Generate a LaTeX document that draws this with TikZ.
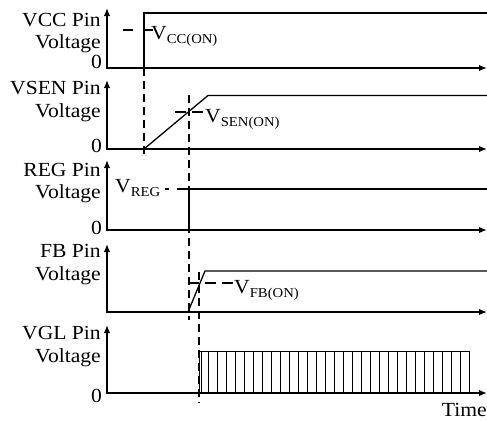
\documentclass[tikz,border=0pt]{standalone}
\usepackage{fontspec}
\setmainfont{Liberation Serif}[FakeStretch=1.08]
\usetikzlibrary{arrows.meta}
\newcommand{\sbs}[1]{\raisebox{-4pt}{\fontsize{13.6}{14}\selectfont #1}}
\begin{document}
\begin{tikzpicture}[x=1pt,y=-1pt,
  axis/.style={line width=1.5pt,{Latex[length=8pt,width=6.5pt]}-{Latex[length=8pt,width=6.5pt]}},
  wave/.style={line width=1.3pt},
  pulse/.style={line width=0.9pt},
  dsh/.style={line width=1.2pt,dash pattern=on 8pt off 5pt},
  lbl/.style={inner sep=0pt,anchor=base east,font=\fontsize{20}{24}\selectfont},
  vlbl/.style={inner sep=0pt,anchor=base west,font=\fontsize{20}{24}\selectfont}]
\useasboundingbox (0,0) rectangle (487,421);
% panel 1 VCC
\node[lbl] (l1a) at (101,26) {VCC Pin};
\node[lbl] (l1b) at (101,48) {Voltage};
\node[lbl] (z1) at (102,68) {0};
\coordinate (a1t) at (107,8); \coordinate (a1o) at (107,68); \coordinate (a1r) at (487,68);
\draw[axis] (a1t) -- (a1o) -- (a1r);
\draw[wave] (144,68) -- (144,13) -- (487,13);
\draw[line width=1.2pt,dash pattern=on 10pt off 10pt] (123,30) -- (153,30);
\node[vlbl] (vcc) at (151,39) {V\sbs{CC(ON)}};
% panel 2 VSEN
\node[lbl] (l2a) at (101,94) {VSEN Pin};
\node[lbl] (l2b) at (101,117) {Voltage};
\node[lbl] (z2) at (102,152) {0};
\coordinate (a2t) at (107,80); \coordinate (a2o) at (107,149); \coordinate (a2r) at (487,149);
\draw[axis] (a2t) -- (a2o) -- (a2r);
\draw[wave] (144,149) -- (208,95.5) -- (487,95.5);
\draw[line width=1.2pt,dash pattern=on 11pt off 6pt] (175,112) -- (203,112);
\node[vlbl] (vsen) at (205,122) {V\sbs{SEN(ON)}};
% panel 3 REG
\node[lbl] (l3a) at (101,176) {REG Pin};
\node[lbl] (l3b) at (101,198) {Voltage};
\node[lbl] (z3) at (102,234) {0};
\coordinate (a3t) at (107,160); \coordinate (a3o) at (107,230); \coordinate (a3r) at (487,230);
\draw[axis] (a3t) -- (a3o) -- (a3r);
\draw[wave] (189,230) -- (189,189) -- (487,189);
\draw[line width=1.2pt,dash pattern=on 12pt off 8pt] (189,189) -- (165,189);
\node[vlbl] (vreg) at (115,192) {V\sbs{REG}};
% panel 4 FB
\node[lbl] (l4a) at (101,257) {FB Pin};
\node[lbl] (l4b) at (101,280) {Voltage};
\coordinate (a4t) at (107,244); \coordinate (a4o) at (107,312); \coordinate (a4r) at (487,312);
\draw[axis] (a4t) -- (a4o) -- (a4r);
\draw[wave] (188,312) -- (205,271) -- (487,271);
\draw[line width=1.2pt,dash pattern=on 11pt off 6pt] (233,283) -- (189,283);
\node[vlbl] (vfb) at (234,293) {V\sbs{FB(ON)}};
% panel 5 VGL
\node[lbl] (l5a) at (101,339) {VGL Pin};
\node[lbl] (l5b) at (101,362) {Voltage};
\node[lbl] (z5) at (102,402) {0};
\coordinate (a5t) at (107,325); \coordinate (a5o) at (107,393); \coordinate (a5r) at (487,393);
\draw[axis] (a5t) -- (a5o) -- (a5r);
\draw[pulse] (199,393) rectangle (469,351);
\foreach \k in {1,...,29} \draw[pulse] ({199+9*\k},351) -- ({199+9*\k},393);
\draw[pulse] (201.5,351) -- (201.5,393);
\node[inner sep=0pt,anchor=base east,font=\fontsize{20}{24}\selectfont] (time) at (487,416) {Time};
% vertical dashed markers
\draw[dsh] (144,68) -- (144,159);
\draw[dsh] (189,95) -- (189,320);
\draw[dsh] (199,272) -- (199,403);
\end{tikzpicture}
\end{document}
